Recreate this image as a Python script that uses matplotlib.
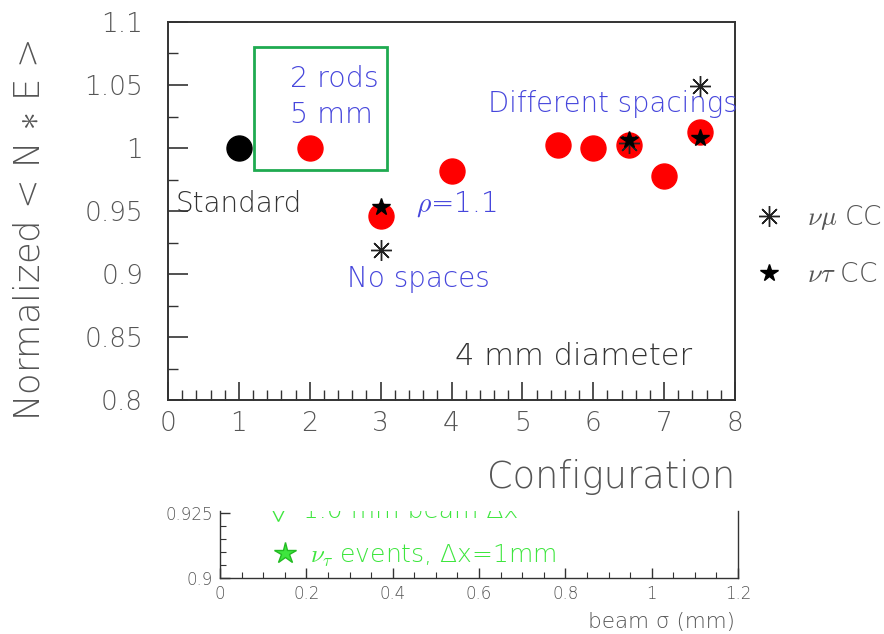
import matplotlib
matplotlib.use("Agg")
import matplotlib.pyplot as plt
from matplotlib.ticker import MultipleLocator

# ---------------- data ----------------
std_x = [1]
std_y = [1.000]
cfg_x = [2, 3, 4, 5.5, 6, 6.5, 7, 7.5]
cfg_y = [1.000, 0.946, 0.982, 1.002, 1.000, 1.002, 0.978, 1.013]
numu_x = [3, 6.5, 7.5]
numu_y = [0.919, 1.004, 1.049]
nutau_x = [3, 6.5, 7.5]
nutau_y = [0.953, 1.006, 1.008]
x_ticks = [0, 1, 2, 3, 4, 5, 6, 7, 8]
y_ticks = [0.8, 0.85, 0.9, 0.95, 1.0, 1.05, 1.1]
y_tick_labels = ["0.8", "0.85", "0.9", "0.95", "1", "1.05", "1.1"]
bx_ticks = [0, 0.2, 0.4, 0.6, 0.8, 1.0, 1.2]
bx_tick_labels = ["0", "0.2", "0.4", "0.6", "0.8", "1", "1.2"]
by_ticks = [0.9, 0.925]
by_tick_labels = ["0.9", "0.925"]

FONT = ["DejaVu Sans"]
plt.rcParams["font.family"] = FONT
plt.rcParams["font.weight"] = "light"
plt.rcParams["mathtext.fontset"] = "cm"

GRAY = "#555555"
AX = "#333333"
BLUE = "#4646dc"
GREEN_BOX = "#1faa50"
GREEN = "#3ee63e"

fig = plt.figure(figsize=(8.84, 6.34), dpi=100)

# ---------------- main axes ----------------
W, H = 884, 634
ax = fig.add_axes([168 / W, 1 - 400 / H, (735 - 168) / W, (400 - 22) / H])
ax.set_xlim(0, 8)
ax.set_ylim(0.8, 1.1)
for s in ax.spines.values():
    s.set_color(AX)
    s.set_linewidth(1.4)

ax.set_xticks(x_ticks)
ax.set_xticklabels([str(t) for t in x_ticks])
ax.set_yticks(y_ticks)
ax.set_yticklabels(y_tick_labels)
ax.xaxis.set_minor_locator(MultipleLocator(0.2))
ax.yaxis.set_minor_locator(MultipleLocator(0.025))
ax.tick_params(axis="both", which="both", direction="in", colors=AX,
               labelcolor=GRAY, top=False, right=False)
ax.tick_params(axis="x", which="major", length=13, width=1.2, pad=8, labelsize=19)
ax.tick_params(axis="x", which="minor", length=7, width=1.0)
ax.tick_params(axis="y", which="major", length=14.5, width=1.2, pad=18, labelsize=19)
ax.tick_params(axis="y", which="minor", length=7.5, width=1.0)

ax.plot(std_x, std_y, "o", color="black", markersize=18, zorder=3)
ax.plot(cfg_x, cfg_y, "o", color="red", markersize=18, zorder=3)
ax.plot(numu_x, numu_y, linestyle="none", marker=(8, 2, 0), color="#222222",
        markersize=15, markeredgewidth=1.0, zorder=4, label=r"$\nu\mu$ CC")
ax.plot(nutau_x, nutau_y, linestyle="none", marker="*", color="black",
        markersize=13, zorder=5, label=r"$\nu\tau$ CC")

# green box
ax.add_patch(plt.Rectangle((1.213, 0.9825), 3.09 - 1.213, 1.080 - 0.9825,
                           fill=False, edgecolor=GREEN_BOX, linewidth=2, zorder=2))

ax.text(1.72, 1.0484, "2 rods", color=BLUE, fontsize=20.5, va="baseline", ha="left")
ax.text(1.72, 1.0198, "5 mm", color=BLUE, fontsize=20.5, va="baseline", ha="left")
ax.text(0.11, 0.9492, "Standard", color="#333333", fontsize=20, va="baseline", ha="left")
ax.text(2.53, 0.8897, "No spaces", color=BLUE, fontsize=20, va="baseline", ha="left")
ax.text(3.50, 0.9492, r"$\rho$=1.1", color=BLUE, fontsize=20, va="baseline", ha="left")
ax.text(4.51, 1.0286, "Different spacings", color=BLUE, fontsize=19.8, va="baseline",
        ha="left", clip_on=False)
ax.text(4.05, 0.8278, "4 mm diameter", color="#333333", fontsize=22, va="baseline", ha="left")

fig.text(735 / W, 1 - 488 / H, "Configuration", color=GRAY, fontsize=26.5,
         ha="right", va="baseline")
fig.text(30 / W, 1 - 230 / H, r"Normalized < N $\ast$ E >", color=GRAY, fontsize=25.5,
         rotation=90, ha="center", va="center")

leg = ax.legend(loc="center left", bbox_to_anchor=(757 / W, 1 - 245 / H),
                bbox_transform=fig.transFigure, frameon=False, fontsize=19,
                handlelength=0.9, handletextpad=1.0, labelspacing=1.15,
                borderpad=0, borderaxespad=0)
for t in leg.get_texts():
    t.set_color(GRAY)

# ---------------- lower (cropped) panel ----------------
bx = fig.add_axes([220 / W, 1 - 578 / H, (738 - 220) / W, (578 - 511) / H])
bx.set_xlim(0, 1.2)
bx.set_ylim(0.9, 0.9 + 0.025 * 67 / 65)
bx.spines["top"].set_visible(False)
for s in ["left", "right", "bottom"]:
    bx.spines[s].set_color(AX)
    bx.spines[s].set_linewidth(1.0)
bx.set_xticks(bx_ticks)
bx.set_xticklabels(bx_tick_labels)
bx.set_yticks(by_ticks)
bx.set_yticklabels(by_tick_labels)
bx.xaxis.set_minor_locator(MultipleLocator(0.05))
bx.yaxis.set_minor_locator(MultipleLocator(0.005))
bx.tick_params(axis="both", which="both", direction="in", colors=AX,
               labelcolor=GRAY, top=False, right=False)
bx.tick_params(axis="both", which="major", length=7, width=1.0, labelsize=12, pad=5)
bx.tick_params(axis="both", which="minor", length=4, width=0.8)

bx.plot([0.15], [0.9096], marker="*", color=GREEN, markeredgecolor="#22bb22",
        markersize=16, linestyle="none")
bx.text(0.208, 0.9058, r"$\nu_\tau$ events, Δx=1mm", color=GREEN, fontsize=18,
        va="baseline", ha="left")
bx.plot([0.134], [0.9250], marker="v", markerfacecolor="none", markeredgecolor=GREEN,
        markersize=11, linestyle="none", clip_on=True)
bx.text(0.192, 0.9232, "1.0 mm beam Δx", color=GREEN, fontsize=18,
        va="baseline", ha="left", clip_on=True)

fig.text(735 / W, 1 - 622 / H, "beam σ (mm)", color=GRAY, fontsize=15.5,
         ha="right", va="center")

fig.savefig("out.png", dpi=100)
